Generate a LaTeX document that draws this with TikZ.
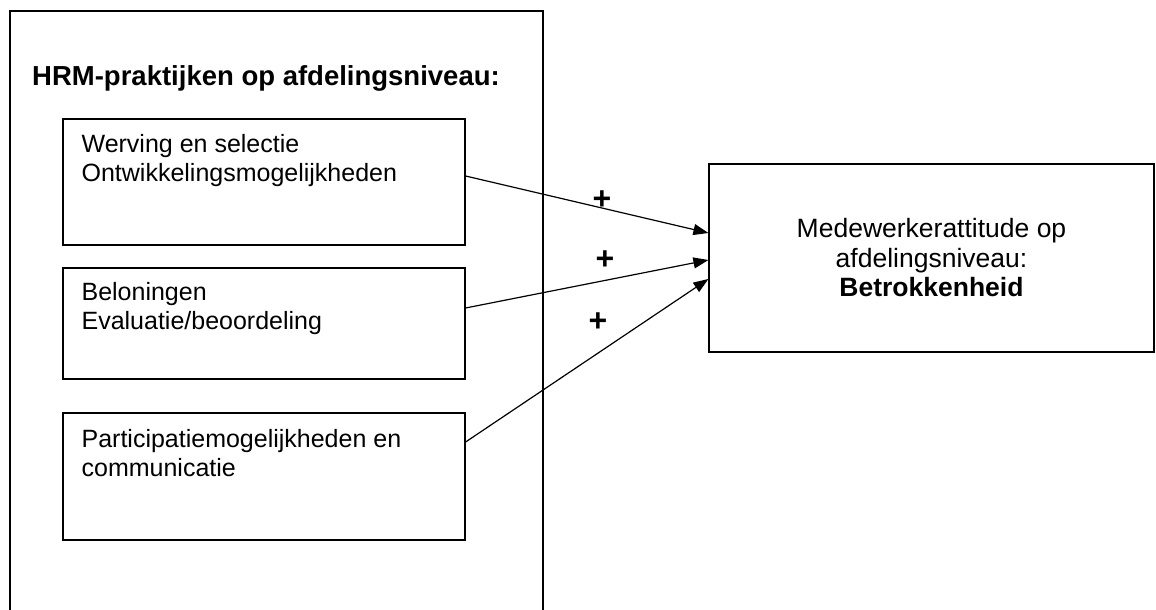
\documentclass[tikz,border=0pt]{standalone}
\usepackage{fontspec}
\setmainfont{Liberation Sans}
\usetikzlibrary{arrows.meta, positioning, calc}

\begin{document}
\begin{tikzpicture}[
    x=1pt, y=1pt,
    frame/.style={
        rectangle,
        draw,
        line width=1.2pt,
        minimum width=533pt,
        minimum height=620pt,
        inner sep=0pt
    },
    practice/.style={
        rectangle,
        draw,
        line width=1.2pt,
        minimum width=402pt,
        inner sep=0pt
    },
    practicetext/.style={
        inner sep=0pt,
        align=left,
        font=\fontsize{25}{28.5}\selectfont
    },
    attitude/.style={
        rectangle,
        draw,
        line width=1.2pt,
        minimum width=445pt,
        minimum height=188pt,
        align=center,
        font=\fontsize{26.5}{29.5}\selectfont
    },
    heading/.style={inner sep=0pt, font=\fontsize{27.5}{30}\selectfont\bfseries},
    plus/.style={inner sep=0pt, font=\fontsize{32}{34}\selectfont\bfseries},
    arrow/.style={-{Triangle[length=15pt,width=11pt]}, line width=1.2pt}
]

\clip (0,0) rectangle (1156,610);

% --- linkerkader (HRM-praktijken) ---
\node[frame] (hrm) at (276.5,289) {};
\node[heading, anchor=base west] (hrmtitle) at (32,524) {HRM-praktijken op afdelingsniveau:};

% --- praktijken ---
\node[practice, minimum height=126pt] (werving)      at (264,428)   {};
\node[practice, minimum height=111pt] (beloning)     at (264,286.5) {};
\node[practice, minimum height=127pt] (participatie) at (264,133.5) {};

\node[practicetext, below right=16pt and 19pt of werving.north west] (wervingtext)
{Werving en selectie\\Ontwikkelingsmogelijkheden};
\node[practicetext, below right=15pt and 19pt of beloning.north west] (beloningtext)
{Beloningen\\Evaluatie/beoordeling};
\node[practicetext, below right=17pt and 19pt of participatie.north west] (participatietext)
{Participatiemogelijkheden en\\communicatie};

% --- rechts: medewerkerattitude ---
\node[attitude] (betrokkenheid) at (931.5,352)
{Medewerkerattitude op\\afdelingsniveau:\\\textbf{Betrokkenheid}};

% --- pijlen ---
\draw[arrow] ([yshift=6pt]werving.east) -- ([yshift=25pt]betrokkenheid.west);
\draw[arrow] ([yshift=15.5pt]beloning.east) -- ([yshift=-2pt]betrokkenheid.west);
\draw[arrow] ([yshift=34.5pt]participatie.east) -- ([yshift=-21pt]betrokkenheid.west);

% --- plustekens ---
\node[plus] (plus1) at (602,410) {+};
\node[plus] (plus2) at (605,350) {+};
\node[plus] (plus3) at (598,288) {+};

\end{tikzpicture}
\end{document}
